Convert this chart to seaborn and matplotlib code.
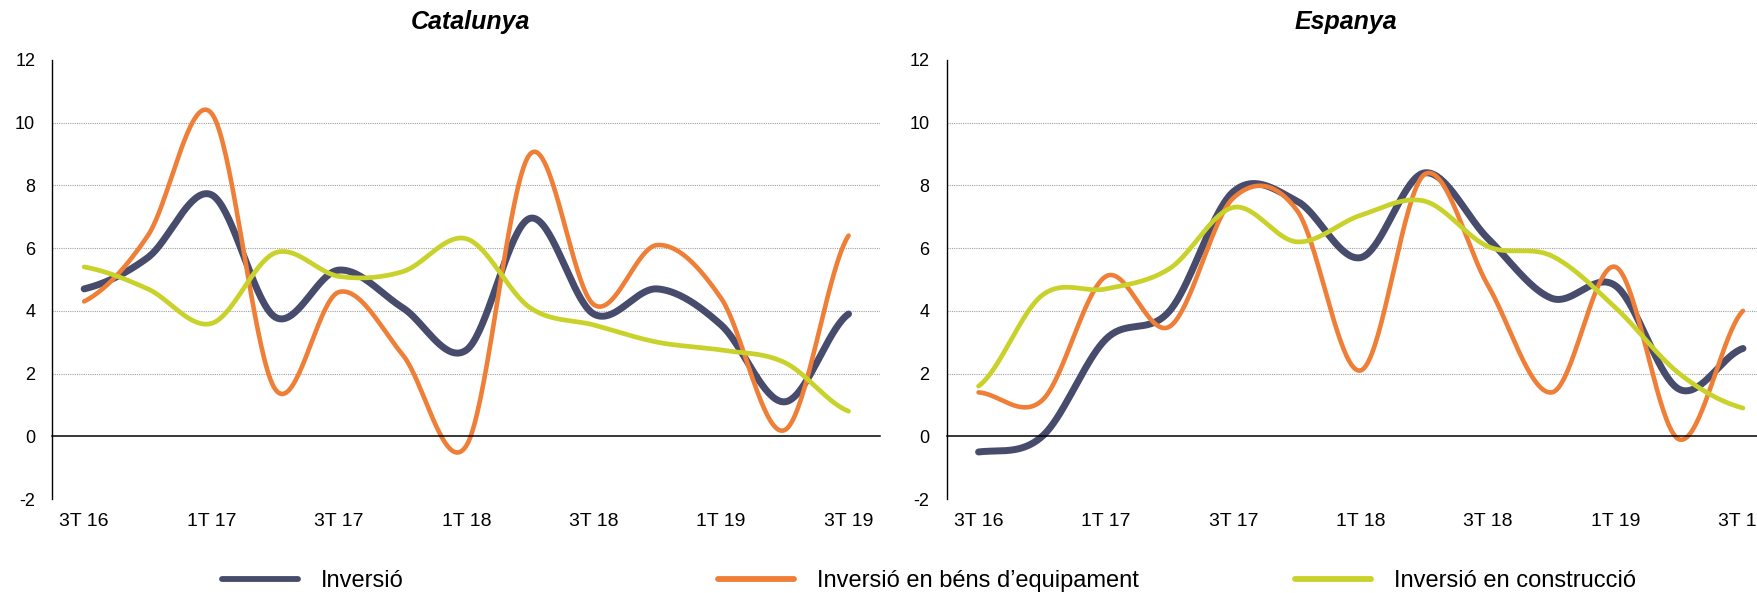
# -*- coding: utf-8 -*-
"""Inversió: Catalunya vs Espanya (taxa de variació interanual, %)"""

import numpy as np
import pandas as pd
import matplotlib
matplotlib.use('Agg')
import matplotlib.pyplot as plt
import seaborn as sns
from matplotlib.lines import Line2D

# --- dades (llegides del gràfic) ---
quarters = ['3T 16', '4T 16', '1T 17', '2T 17', '3T 17', '4T 17', '1T 18',
            '2T 18', '3T 18', '4T 18', '1T 19', '2T 19', '3T 19']

cat_inversio = [4.7, 5.7, 7.7, 3.8, 5.3, 4.1, 2.75, 6.95, 3.9, 4.7, 3.55, 1.1, 3.9]
cat_equip = [4.3, 6.4, 10.3, 1.5, 4.6, 2.6, -0.3, 9.0, 4.2, 6.1, 4.4, 0.2, 6.4]
cat_constr = [5.4, 4.7, 3.6, 5.85, 5.1, 5.25, 6.3, 4.1, 3.55, 3.0, 2.75, 2.35, 0.8]

esp_inversio = [-0.5, 0.0, 3.1, 4.0, 7.8, 7.5, 5.7, 8.4, 6.3, 4.4, 4.8, 1.5, 2.8]
esp_equip = [1.4, 1.15, 5.1, 3.5, 7.6, 7.2, 2.1, 8.35, 4.8, 1.4, 5.4, -0.1, 4.0]
esp_constr = [1.6, 4.5, 4.7, 5.35, 7.3, 6.2, 7.05, 7.5, 6.05, 5.75, 4.1, 2.0, 0.9]

series_names = ['Inversió', "Inversió en béns d’equipament", 'Inversió en construcció']
colors = ['#474B6C', '#EF7E37', '#C9D22B']
widths = [5.0, 3.3, 3.4]


def smooth_curve(values, n=40):
    """Corba suavitzada tipus Excel (Catmull-Rom) que passa per cada punt"""
    y = np.asarray(values, dtype=float)
    m = np.empty_like(y)
    m[1:-1] = (y[2:] - y[:-2]) / 2
    m[0] = (y[1] - y[0]) / 2
    m[-1] = (y[-1] - y[-2]) / 2
    xs, ys = [], []
    for i in range(len(y) - 1):
        t = np.linspace(0, 1, n, endpoint=(i == len(y) - 2))
        h00 = 2 * t**3 - 3 * t**2 + 1
        h10 = t**3 - 2 * t**2 + t
        h01 = -2 * t**3 + 3 * t**2
        h11 = t**3 - t**2
        xs.append(i + t)
        ys.append(h00 * y[i] + h10 * m[i] + h01 * y[i + 1] + h11 * m[i + 1])
    return np.concatenate(xs), np.concatenate(ys)


def draw_panel(ax, data):
    for vals, col, lw in zip(data, colors, widths):
        xs, ys = smooth_curve(vals)
        df = pd.DataFrame({'x': xs, 'y': ys})
        sns.lineplot(data=df, x='x', y='y', ax=ax, color=col, linewidth=lw,
                     sort=False, estimator=None, solid_capstyle='round')

    ax.set_xlim(-0.5, len(quarters) - 0.5)
    ax.set_ylim(-2, 12)
    ax.set_xlabel('')
    ax.set_ylabel('')

    ax.spines['top'].set_visible(False)
    ax.spines['right'].set_visible(False)
    ax.spines['left'].set_color('black')
    ax.spines['left'].set_linewidth(1.0)
    ax.spines['bottom'].set_position(('data', 0))
    ax.spines['bottom'].set_color('black')
    ax.spines['bottom'].set_linewidth(1.1)

    # marques entre trimestres sobre l'eix zero
    ax.set_xticks(np.arange(-0.5, len(quarters), 1.0))
    ax.set_xticklabels([])
    ax.tick_params(axis='x', which='major', direction='inout', length=8,
                   width=0.8, color='#9a9a9a')
    # etiquetes cada dos trimestres, a la part de baix
    ax.set_xticks(np.arange(0, len(quarters), 2), minor=True)
    ax.set_xticklabels(quarters[::2], minor=True)
    ax.tick_params(axis='x', which='minor', length=0, pad=55, labelsize=14,
                   labelcolor='black')

    ax.set_yticks(np.arange(-2, 13, 2))
    ax.tick_params(axis='y', direction='out', length=4.3, width=0.8,
                   color='#555555', labelsize=13, pad=8, labelcolor='black')

    ax.yaxis.grid(True, linestyle=(0, (1, 1)), color='#a0a0a0', linewidth=0.8)
    ax.xaxis.grid(False)
    for val, gl in zip(ax.get_yticks(), ax.yaxis.get_gridlines()):
        if val in (-2, 0, 12):
            gl.set_visible(False)


sns.set_style('white')
plt.rcParams['font.family'] = ['Liberation Sans', 'DejaVu Sans']
plt.rcParams['axes.unicode_minus'] = False
plt.rcParams['text.color'] = 'black'

fig = plt.figure(figsize=(17.58, 5.93), dpi=100)
W, H = 1758.0, 593.0
ax_bottom = (H - 499) / H
ax_height = 439 / H
ax_width = 828.1 / W

ax1 = fig.add_axes([52.3 / W, ax_bottom, ax_width, ax_height])
ax2 = fig.add_axes([946.7 / W, ax_bottom, ax_width, ax_height])

draw_panel(ax1, [cat_inversio, cat_equip, cat_constr])
draw_panel(ax2, [esp_inversio, esp_equip, esp_constr])

fig.text(470.5 / W, 1 - 22 / H, 'Catalunya', ha='center', va='center',
         fontsize=18, fontweight='bold', fontstyle='italic', color='black')
fig.text(1346 / W, 1 - 22 / H, 'Espanya', ha='center', va='center',
         fontsize=18, fontweight='bold', fontstyle='italic', color='black')

# llegenda: tres entrades separades com a l'original
legend_x = [222 / W, 718 / W, 1295 / W]
for name, col, lx in zip(series_names, colors, legend_x):
    h = Line2D([], [], color=col, linewidth=4.2)
    leg = fig.legend([h], [name], loc='center left', bbox_to_anchor=(lx, 1 - 581 / H),
                     frameon=False, fontsize=17, handlelength=3.2, handletextpad=1.0,
                     borderpad=0, borderaxespad=0)
    for txt in leg.get_texts():
        txt.set_color('black')

fig.savefig('out.png', dpi=100)
